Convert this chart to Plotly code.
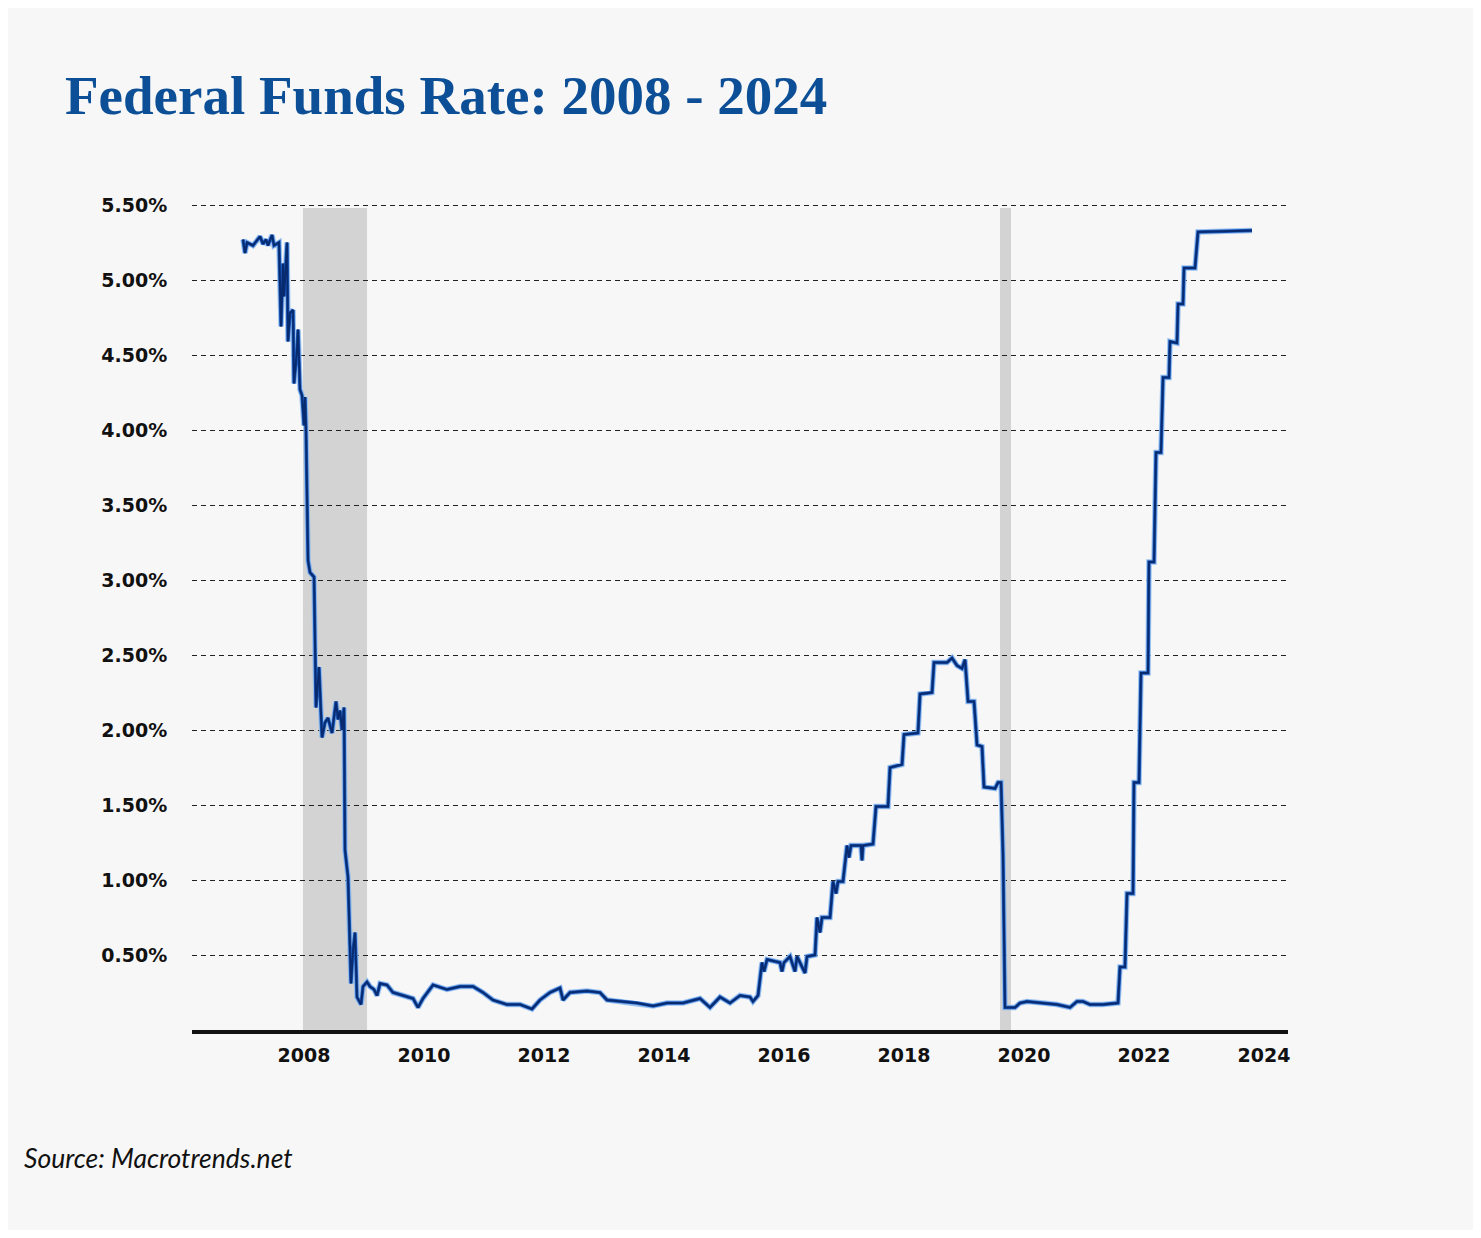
import plotly.graph_objects as go

# ---- data (decimal year, effective fed funds rate %) ----
years = [
    2006.983, 2007.017, 2007.05, 2007.15, 2007.267, 2007.317, 2007.367, 2007.40, 2007.467, 2007.50,
    2007.583, 2007.617, 2007.65, 2007.667, 2007.717, 2007.733, 2007.767, 2007.817, 2007.833, 2007.883,
    2007.90, 2007.933, 2007.967, 2008.0, 2008.017, 2008.033, 2008.067, 2008.10, 2008.167, 2008.183,
    2008.20, 2008.25, 2008.30, 2008.35, 2008.40, 2008.467, 2008.533, 2008.567, 2008.60, 2008.633,
    2008.667, 2008.683, 2008.733, 2008.783, 2008.817, 2008.85, 2008.883, 2008.95, 2008.983, 2009.05,
    2009.10, 2009.167, 2009.217, 2009.267, 2009.383, 2009.483, 2009.65, 2009.817, 2009.90, 2009.983,
    2010.15, 2010.383, 2010.60, 2010.817, 2010.983, 2011.15, 2011.383, 2011.60, 2011.80, 2011.933,
    2012.10, 2012.267, 2012.317, 2012.433, 2012.717, 2012.933, 2013.05, 2013.267, 2013.55, 2013.817,
    2014.05, 2014.317, 2014.60, 2014.767, 2014.933, 2015.10, 2015.267, 2015.433, 2015.483, 2015.567,
    2015.633, 2015.667, 2015.717, 2015.933, 2015.967, 2016.0, 2016.10, 2016.183, 2016.217, 2016.35,
    2016.383, 2016.517, 2016.55, 2016.60, 2016.633, 2016.767, 2016.817, 2016.867, 2016.90, 2016.983,
    2017.05, 2017.083, 2017.117, 2017.283, 2017.30, 2017.317, 2017.483, 2017.533, 2017.733, 2017.767,
    2017.967, 2018.0, 2018.233, 2018.267, 2018.467, 2018.50, 2018.717, 2018.80, 2018.883, 2018.967,
    2019.017, 2019.067, 2019.167, 2019.217, 2019.30, 2019.333, 2019.517, 2019.567, 2019.617, 2019.65,
    2019.683, 2019.85, 2019.933, 2020.05, 2020.317, 2020.55, 2020.767, 2020.883, 2020.983, 2021.10,
    2021.317, 2021.567, 2021.60, 2021.683, 2021.717, 2021.817, 2021.833, 2021.917, 2021.95, 2022.067,
    2022.083, 2022.167, 2022.20, 2022.283, 2022.317, 2022.417, 2022.433, 2022.55, 2022.567, 2022.65,
    2022.667, 2022.85, 2022.90, 2023.80,
]
rates = [
    5.27, 5.18, 5.25, 5.23, 5.29, 5.24, 5.27, 5.23, 5.30, 5.23,
    5.25, 4.69, 5.11, 4.89, 5.25, 4.59, 4.78, 4.80, 4.31, 4.53,
    4.67, 4.27, 4.23, 4.03, 4.22, 4.00, 3.13, 3.05, 3.02, 2.53,
    2.15, 2.42, 1.95, 2.05, 2.08, 1.98, 2.19, 2.07, 2.13, 2.00,
    2.15, 1.20, 1.02, 0.31, 0.53, 0.65, 0.22, 0.17, 0.29, 0.32,
    0.29, 0.27, 0.23, 0.31, 0.30, 0.25, 0.23, 0.21, 0.15, 0.21,
    0.30, 0.27, 0.29, 0.29, 0.25, 0.20, 0.17, 0.17, 0.14, 0.20,
    0.25, 0.28, 0.20, 0.25, 0.26, 0.25, 0.20, 0.19, 0.18, 0.16,
    0.18, 0.18, 0.21, 0.15, 0.22, 0.18, 0.23, 0.22, 0.19, 0.23,
    0.45, 0.39, 0.47, 0.45, 0.39, 0.45, 0.49, 0.39, 0.49, 0.38,
    0.49, 0.50, 0.75, 0.65, 0.75, 0.75, 0.99, 0.91, 0.99, 0.99,
    1.23, 1.15, 1.23, 1.23, 1.13, 1.23, 1.24, 1.49, 1.49, 1.75,
    1.77, 1.97, 1.98, 2.24, 2.25, 2.45, 2.45, 2.48, 2.43, 2.41,
    2.47, 2.19, 2.19, 1.90, 1.89, 1.62, 1.61, 1.65, 1.65, 1.17,
    0.15, 0.15, 0.18, 0.19, 0.18, 0.17, 0.15, 0.19, 0.19, 0.17,
    0.17, 0.18, 0.42, 0.42, 0.91, 0.91, 1.65, 1.65, 2.38, 2.38,
    3.12, 3.12, 3.85, 3.85, 4.35, 4.35, 4.59, 4.58, 4.84, 4.84,
    5.08, 5.08, 5.32, 5.33,
]

recession_starts = [2007.983, 2019.60]
recession_ends = [2009.05, 2019.783]
recession_top = 5.48

x_ticks = [2008, 2010, 2012, 2014, 2016, 2018, 2020, 2022, 2024]
y_ticks = [0.5, 1.0, 1.5, 2.0, 2.5, 3.0, 3.5, 4.0, 4.5, 5.0, 5.5]
y_tick_labels = ["0.50%", "1.00%", "1.50%", "2.00%", "2.50%", "3.00%",
                 "3.50%", "4.00%", "4.50%", "5.00%", "5.50%"]

title_text = "Federal Funds Rate: 2008 - 2024"
source_text = "Source: Macrotrends.net"

BG = "#f7f7f7"

fig = go.Figure()

# halo + core line layers
fig.add_trace(go.Scatter(x=years, y=rates, mode="lines",
                         line=dict(color="rgba(140,185,235,0.85)", width=5.5),
                         hoverinfo="skip", showlegend=False))
fig.add_trace(go.Scatter(x=years, y=rates, mode="lines",
                         line=dict(color="#1d5cc0", width=3.4),
                         hoverinfo="skip", showlegend=False))
fig.add_trace(go.Scatter(x=years, y=rates, mode="lines",
                         line=dict(color="#082a6e", width=2.0),
                         showlegend=False))

shapes = []
for s, e in zip(recession_starts, recession_ends):
    shapes.append(dict(type="rect", xref="x", yref="y", x0=s, x1=e,
                       y0=0, y1=recession_top, fillcolor="#d3d3d3",
                       line=dict(width=0), layer="below"))

fig.update_layout(
    width=1465, height=1222,
    margin=dict(l=184, r=185, t=182, b=200),
    paper_bgcolor=BG, plot_bgcolor=BG,
    shapes=shapes,
    showlegend=False,
    font=dict(family="DejaVu Sans", color="#111111"),
    annotations=[
        dict(text=title_text, xref="paper", yref="paper",
             x=-0.1177, y=1.112, xanchor="left", yanchor="middle",
             showarrow=False,
             font=dict(family="Liberation Serif", size=55, color="#0d4f96",
                       weight="bold")),
        dict(text=source_text, xref="paper", yref="paper",
             x=-0.1555, y=-0.1524, xanchor="left", yanchor="middle",
             showarrow=False,
             font=dict(family="Lato", size=26.5, color="#111111", style="italic")),
    ],
)

fig.update_xaxes(
    range=[2006.133, 2024.4],
    tickvals=x_ticks, ticktext=[str(t) for t in x_ticks],
    showgrid=False, zeroline=False,
    showline=True, linecolor="#111111", linewidth=4,
    ticks="outside", ticklen=5, tickcolor="rgba(0,0,0,0)",
    tickfont=dict(family="DejaVu Sans", size=19, color="#111111", weight="bold"),
)
fig.update_yaxes(
    range=[0, 5.6],
    tickvals=y_ticks, ticktext=y_tick_labels,
    showgrid=True, gridcolor="#222222", gridwidth=1, griddash="5px,4px",
    zeroline=False, showline=False,
    ticks="outside", ticklen=20, tickcolor="rgba(0,0,0,0)",
    tickfont=dict(family="DejaVu Sans", size=19, color="#111111", weight="bold"),
)

fig.write_html("out.html")
